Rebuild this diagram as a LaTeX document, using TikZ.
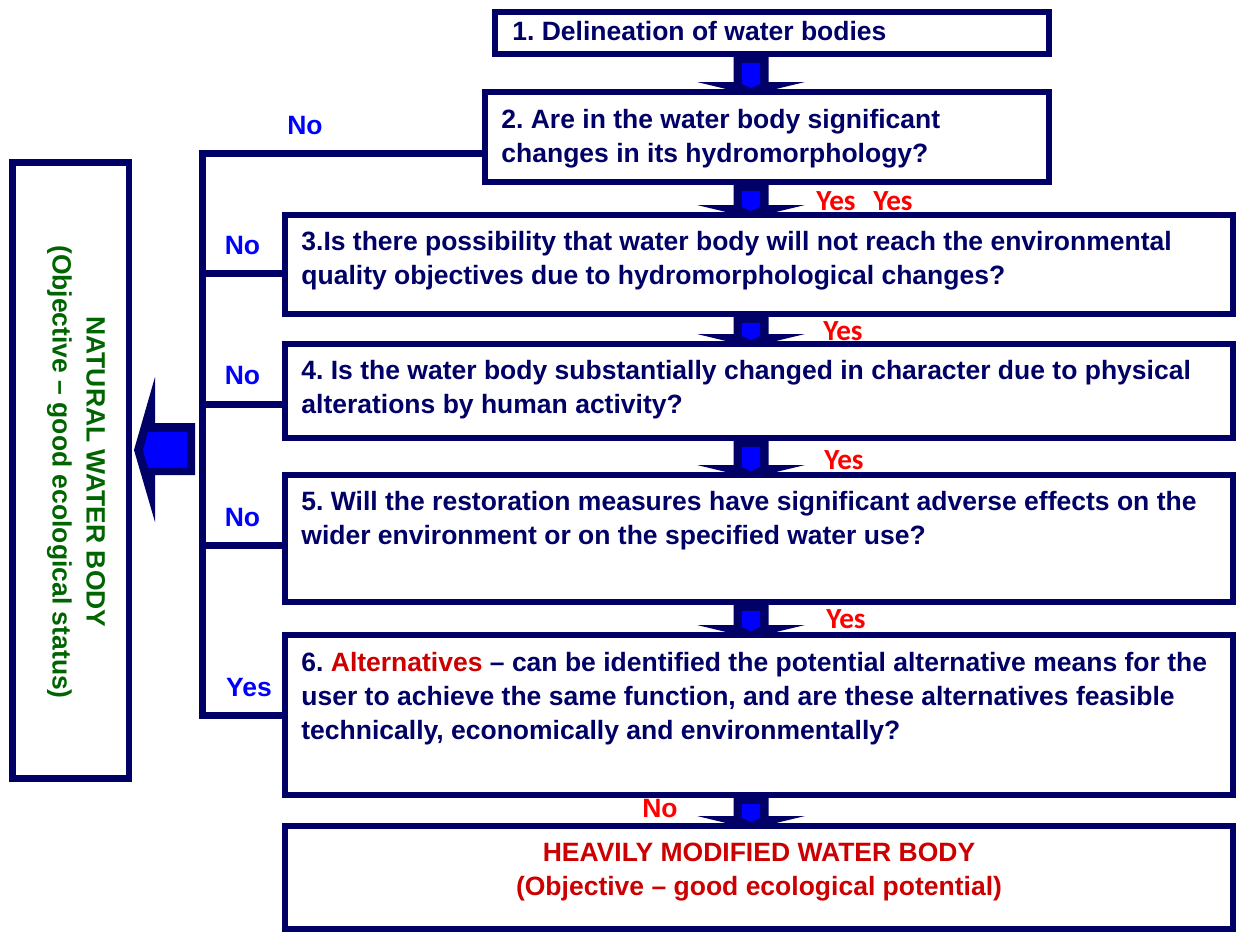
\documentclass[tikz,border=0pt]{standalone}
\usepackage{fontspec}
\setmainfont{Liberation Sans}
\newfontfamily\calfont{Carlito}
\usetikzlibrary{calc,positioning}
\definecolor{navy}{HTML}{000066}
\definecolor{labblue}{HTML}{0000FF}
\definecolor{natgreen}{HTML}{006400}
\definecolor{hmred}{HTML}{CC0000}
\definecolor{yesred}{HTML}{FF0000}
\frenchspacing

\begin{document}
\begin{tikzpicture}[x=0.5pt, y=-0.5pt,
    box/.style={draw=navy, line width=3.2pt, inner sep=0pt, outer sep=0pt},
    qtext/.style={inner sep=0pt, align=left, text=navy, font=\bfseries\fontsize{13.25pt}{17pt}\selectfont},
    link/.style={navy, line width=3.5pt},
    bluelab/.style={inner sep=0pt, text=labblue, font=\bfseries\fontsize{13.25pt}{17pt}\selectfont},
    redlab/.style={inner sep=0pt, text=yesred, font=\calfont\bfseries\fontsize{14.6pt}{17pt}\selectfont}]
                \useasboundingbox (0,0) rectangle (1237,932);

                % question boxes
                \node[box, minimum width=277pt, minimum height=21pt] (q1) at (772,33) {};
                \node[box, minimum width=282pt, minimum height=45pt] (q2) at (767,137) {};
                \node[box, minimum width=474pt, minimum height=49.5pt] (q3) at (759,264.5) {};
                \node[box, minimum width=474pt, minimum height=47pt] (q4) at (759,391) {};
                \node[box, minimum width=474pt, minimum height=63.5pt] (q5) at (759,538.5) {};
                \node[box, minimum width=474pt, minimum height=80pt] (q6) at (759,715) {};
                \node[box, minimum width=474pt, minimum height=51.5pt] (hmwb) at (759,877.5) {};
                \node[box, minimum width=58.25pt, minimum height=308pt] (nwb) at (70.75,470.5) {};

                \node[qtext, anchor=north west, below right=4.35pt and 8.5pt of q1.north west] (t1) {1. Delineation of water bodies};
                \node[qtext, anchor=north west, below right=8.2pt and 8pt of q2.north west] (t2) {2. Are in the water body significant\\changes in its hydromorphology?};
                \node[qtext, anchor=north west, below right=7.85pt and 8pt of q3.north west] (t3) {3.Is there possibility that water body will not reach the environmental\\quality objectives due to hydromorphological changes?};
                \node[qtext, anchor=north west, below right=7.85pt and 8pt of q4.north west] (t4) {4. Is the water body substantially changed in character due to physical\\alterations by human activity?};
                \node[qtext, anchor=north west, below right=7.85pt and 8pt of q5.north west] (t5) {5. Will the restoration measures have significant adverse effects on the\\wider environment or on the specified water use?};
                \node[qtext, anchor=north west, below right=8.5pt and 8pt of q6.north west] (t6) {6. \textcolor{hmred}{Alternatives} -- can be identified the potential alternative means for the\\user to achieve the same function, and are these alternatives feasible\\technically, economically and environmentally?};
                \node[qtext, align=center, text=hmred] (thm) at ($(hmwb.center)+(0,-5.5)$) {HEAVILY MODIFIED WATER BODY\\(Objective -- good ecological potential)};
                \node[qtext, align=center, text=natgreen, rotate=-90] (tnat) at (76,472) {NATURAL WATER BODY\\(Objective -- good ecological status)};

                % "No" branches to the left
                \coordinate (sp2) at (202.5,153.5);
                \coordinate (sp3) at (202.5,273.5);
                \coordinate (sp4) at (202.5,404.5);
                \coordinate (sp5) at (202.5,545);
                \coordinate (sp6) at (202.5,715.5);
                \draw[link] (sp2 -| q2.west) -- (sp2) -- (sp6) -- (sp6 -| q6.west);
                \foreach \s/\q in {sp3/q3, sp4/q4, sp5/q5}
                    \draw[link] (\s) -- (\s -| \q.west);

                % block arrows
                \coordinate (ax) at (751,0);
                \foreach \a/\b in {q1/q2, q2/q3, q3/q4, q4/q5, q5/q6, q6/hmwb} {
                    \fill[navy] ($(ax |- \a.south)+(-17.5,0)$) -- ($(ax |- \a.south)+(17.5,0)$) -- ($(ax |- \b.north)+(17.5,-10)$) -- ($(ax |- \b.north)+(54,-10)$) -- ($(ax |- \b.north)+(0,3)$) -- ($(ax |- \b.north)+(-54,-10)$) -- ($(ax |- \b.north)+(-17.5,-10)$) -- cycle;
                    \fill[labblue] ($(ax |- \a.south)+(-9,9)$) -- ($(ax |- \a.south)+(9,9)$) -- ($(ax |- \b.north)+(9,-8)$) -- ($(ax |- \b.north)+(0,-4)$) -- ($(ax |- \b.north)+(-9,-8)$) -- cycle;
                }
                \fill[navy] (195,423) -- (155,423) -- (155,377) -- (134,450) -- (155,522) -- (155,475) -- (195,475) -- cycle;
                \fill[labblue] (187,432) -- (148,432) -- (143,450) -- (148,468) -- (187,468) -- cycle;

                % labels
                \node[bluelab] (lno2) at (305,126) {No};
                \node[bluelab] (lno3) at (242.5,246) {No};
                \node[bluelab] (lno4) at (242.5,376) {No};
                \node[bluelab] (lno5) at (242.5,517.5) {No};
                \node[bluelab] (lyes6) at (249,688) {Yes};
                \node[redlab] (ryes2a) at (836,201.5) {Yes};
                \node[redlab] (ryes2b) at (893,201.5) {Yes};
                \node[redlab] (ryes3) at (843,331) {Yes};
                \node[redlab] (ryes4) at (844,460.5) {Yes};
                \node[redlab] (ryes5) at (846,619.5) {Yes};
                \node[bluelab, text=yesred] (rno6) at (660,809) {No};
            \end{tikzpicture}
\end{document}
